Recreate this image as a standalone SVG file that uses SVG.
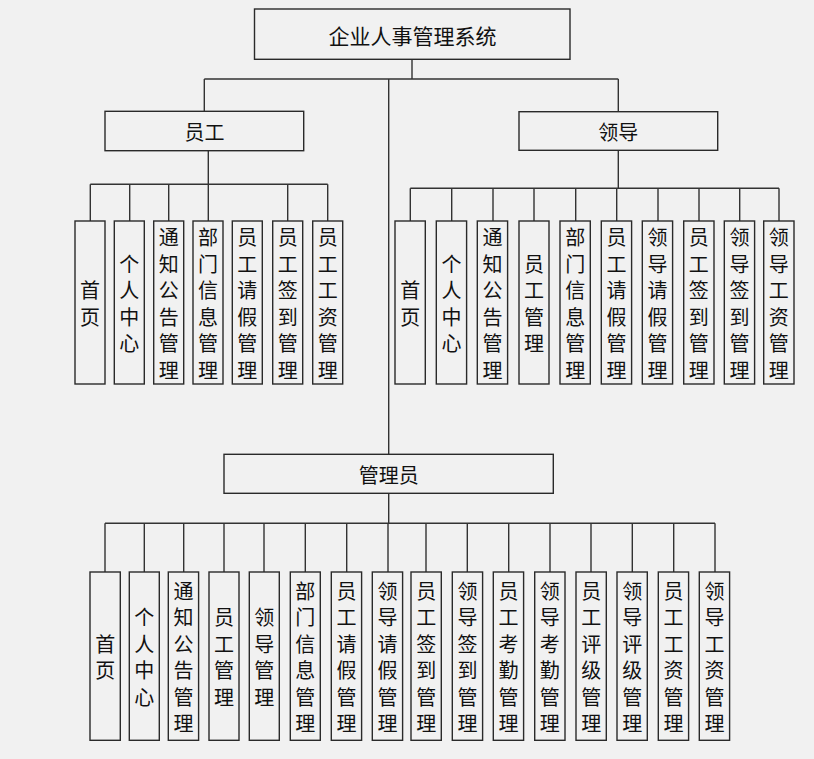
<svg xmlns="http://www.w3.org/2000/svg" width="814" height="759" viewBox="0 0 814 759">
<style>
.bg{fill:#f1f1f1}
.box{fill:#f1f1f1;stroke:#2a2a2a;stroke-width:1.4}
.ln{fill:none;stroke:#333;stroke-width:1.4}
.t{font-family:"Noto Sans CJK SC","Noto Sans",sans-serif;font-size:20px;fill:#111;text-anchor:middle;dominant-baseline:central}
.tt{font-size:21px}
</style>
<rect class="bg" x="0" y="0" width="814" height="759"/>
<g id="connectors">
<path class="ln" d="M412 59.5V79M204.3 79H618.3M204.3 79V111.3M618.3 79V111.7M388.7 79V454.3"/>
<path class="ln" d="M208.3 150.7V184.3M90.3 184.3H327.7M90.3 184.3V221M129.7 184.3V221M168.7 184.3V221M208.3 184.3V221M287.7 184.3V221M327.7 184.3V221"/>
<path class="ln" d="M618.3 150.3V188.3M410.3 188.3H779M410.3 188.3V221M451.7 188.3V221M493 188.3V221M534 188.3V221M575.7 188.3V221M616.7 188.3V221M658 188.3V221M699 188.3V221M739.7 188.3V221M779 188.3V221"/>
<path class="ln" d="M388.7 493.3V523.3M105 523.3H715M105 523.3V572M144.3 523.3V572M183.7 523.3V572M224 523.3V572M264 523.3V572M305.3 523.3V572M346.7 523.3V572M388 523.3V572M426 523.3V572M467.3 523.3V572M508.7 523.3V572M550 523.3V572M591 523.3V572M632.3 523.3V572M673.7 523.3V572M715 523.3V572"/>
</g>
<g id="root"><rect class="box" x="254.5" y="9" width="315.5" height="50.3"/><text class="t tt" x="412.5" y="35">企业人事管理系统</text></g>
<g id="yuangong"><rect class="box" x="105" y="111.3" width="198.7" height="39.4"/><text class="t" x="204.5" y="131.5">员工</text></g>
<g id="lingdao"><rect class="box" x="519" y="111.7" width="198.7" height="38.6"/><text class="t" x="618.3" y="131.5">领导</text></g>
<g id="guanliyuan"><rect class="box" x="224" y="454.3" width="329.3" height="39"/><text class="t" x="388.7" y="474">管理员</text></g>

<g id="e1"><rect class="box" x="75" y="221" width="30" height="163"/><text class="t"><tspan x="90" y="289.3">首</tspan><tspan x="90" y="315.8">页</tspan></text></g>
<g id="e2"><rect class="box" x="114.3" y="221" width="30" height="163"/><text class="t"><tspan x="129.3" y="262.8">个</tspan><tspan x="129.3" y="289.3">人</tspan><tspan x="129.3" y="315.8">中</tspan><tspan x="129.3" y="342.3">心</tspan></text></g>
<g id="e3"><rect class="box" x="153.7" y="221" width="30" height="163"/><text class="t"><tspan x="168.7" y="236.3">通</tspan><tspan x="168.7" y="262.8">知</tspan><tspan x="168.7" y="289.3">公</tspan><tspan x="168.7" y="315.8">告</tspan><tspan x="168.7" y="342.3">管</tspan><tspan x="168.7" y="368.8">理</tspan></text></g>
<g id="e4"><rect class="box" x="193" y="221" width="30" height="163"/><text class="t"><tspan x="208" y="236.3">部</tspan><tspan x="208" y="262.8">门</tspan><tspan x="208" y="289.3">信</tspan><tspan x="208" y="315.8">息</tspan><tspan x="208" y="342.3">管</tspan><tspan x="208" y="368.8">理</tspan></text></g>
<g id="e5"><rect class="box" x="232.3" y="221" width="30" height="163"/><text class="t"><tspan x="247.3" y="236.3">员</tspan><tspan x="247.3" y="262.8">工</tspan><tspan x="247.3" y="289.3">请</tspan><tspan x="247.3" y="315.8">假</tspan><tspan x="247.3" y="342.3">管</tspan><tspan x="247.3" y="368.8">理</tspan></text></g>
<g id="e6"><rect class="box" x="272.7" y="221" width="30" height="163"/><text class="t"><tspan x="287.7" y="236.3">员</tspan><tspan x="287.7" y="262.8">工</tspan><tspan x="287.7" y="289.3">签</tspan><tspan x="287.7" y="315.8">到</tspan><tspan x="287.7" y="342.3">管</tspan><tspan x="287.7" y="368.8">理</tspan></text></g>
<g id="e7"><rect class="box" x="312.7" y="221" width="30" height="163"/><text class="t"><tspan x="327.7" y="236.3">员</tspan><tspan x="327.7" y="262.8">工</tspan><tspan x="327.7" y="289.3">工</tspan><tspan x="327.7" y="315.8">资</tspan><tspan x="327.7" y="342.3">管</tspan><tspan x="327.7" y="368.8">理</tspan></text></g>

<g id="l1"><rect class="box" x="395" y="221" width="30.3" height="163"/><text class="t"><tspan x="410.2" y="289.3">首</tspan><tspan x="410.2" y="315.8">页</tspan></text></g>
<g id="l2"><rect class="box" x="436.3" y="221" width="30.3" height="163"/><text class="t"><tspan x="451.5" y="262.8">个</tspan><tspan x="451.5" y="289.3">人</tspan><tspan x="451.5" y="315.8">中</tspan><tspan x="451.5" y="342.3">心</tspan></text></g>
<g id="l3"><rect class="box" x="477.3" y="221" width="30.3" height="163"/><text class="t"><tspan x="492.5" y="236.3">通</tspan><tspan x="492.5" y="262.8">知</tspan><tspan x="492.5" y="289.3">公</tspan><tspan x="492.5" y="315.8">告</tspan><tspan x="492.5" y="342.3">管</tspan><tspan x="492.5" y="368.8">理</tspan></text></g>
<g id="l4"><rect class="box" x="519" y="221" width="30" height="163"/><text class="t"><tspan x="534" y="262.8">员</tspan><tspan x="534" y="289.3">工</tspan><tspan x="534" y="315.8">管</tspan><tspan x="534" y="342.3">理</tspan></text></g>
<g id="l5"><rect class="box" x="560" y="221" width="30.3" height="163"/><text class="t"><tspan x="575.2" y="236.3">部</tspan><tspan x="575.2" y="262.8">门</tspan><tspan x="575.2" y="289.3">信</tspan><tspan x="575.2" y="315.8">息</tspan><tspan x="575.2" y="342.3">管</tspan><tspan x="575.2" y="368.8">理</tspan></text></g>
<g id="l6"><rect class="box" x="601.3" y="221" width="30.3" height="163"/><text class="t"><tspan x="616.5" y="236.3">员</tspan><tspan x="616.5" y="262.8">工</tspan><tspan x="616.5" y="289.3">请</tspan><tspan x="616.5" y="315.8">假</tspan><tspan x="616.5" y="342.3">管</tspan><tspan x="616.5" y="368.8">理</tspan></text></g>
<g id="l7"><rect class="box" x="642.3" y="221" width="30.3" height="163"/><text class="t"><tspan x="657.5" y="236.3">领</tspan><tspan x="657.5" y="262.8">导</tspan><tspan x="657.5" y="289.3">请</tspan><tspan x="657.5" y="315.8">假</tspan><tspan x="657.5" y="342.3">管</tspan><tspan x="657.5" y="368.8">理</tspan></text></g>
<g id="l8"><rect class="box" x="683.7" y="221" width="30.3" height="163"/><text class="t"><tspan x="698.8" y="236.3">员</tspan><tspan x="698.8" y="262.8">工</tspan><tspan x="698.8" y="289.3">签</tspan><tspan x="698.8" y="315.8">到</tspan><tspan x="698.8" y="342.3">管</tspan><tspan x="698.8" y="368.8">理</tspan></text></g>
<g id="l9"><rect class="box" x="724.3" y="221" width="30.3" height="163"/><text class="t"><tspan x="739.5" y="236.3">领</tspan><tspan x="739.5" y="262.8">导</tspan><tspan x="739.5" y="289.3">签</tspan><tspan x="739.5" y="315.8">到</tspan><tspan x="739.5" y="342.3">管</tspan><tspan x="739.5" y="368.8">理</tspan></text></g>
<g id="l10"><rect class="box" x="763.7" y="221" width="30.3" height="163"/><text class="t"><tspan x="778.8" y="236.3">领</tspan><tspan x="778.8" y="262.8">导</tspan><tspan x="778.8" y="289.3">工</tspan><tspan x="778.8" y="315.8">资</tspan><tspan x="778.8" y="342.3">管</tspan><tspan x="778.8" y="368.8">理</tspan></text></g>

<g id="a1"><rect class="box" x="90" y="572" width="30.3" height="168.3"/><text class="t"><tspan x="105.2" y="642.9">首</tspan><tspan x="105.2" y="669.4">页</tspan></text></g>
<g id="a2"><rect class="box" x="129.3" y="572" width="30" height="168.3"/><text class="t"><tspan x="144.3" y="616.4">个</tspan><tspan x="144.3" y="642.9">人</tspan><tspan x="144.3" y="669.4">中</tspan><tspan x="144.3" y="695.9">心</tspan></text></g>
<g id="a3"><rect class="box" x="168.3" y="572" width="30.3" height="168.3"/><text class="t"><tspan x="183.5" y="589.9">通</tspan><tspan x="183.5" y="616.4">知</tspan><tspan x="183.5" y="642.9">公</tspan><tspan x="183.5" y="669.4">告</tspan><tspan x="183.5" y="695.9">管</tspan><tspan x="183.5" y="722.4">理</tspan></text></g>
<g id="a4"><rect class="box" x="209" y="572" width="30" height="168.3"/><text class="t"><tspan x="224" y="616.4">员</tspan><tspan x="224" y="642.9">工</tspan><tspan x="224" y="669.4">管</tspan><tspan x="224" y="695.9">理</tspan></text></g>
<g id="a5"><rect class="box" x="249.3" y="572" width="30" height="168.3"/><text class="t"><tspan x="264.3" y="616.4">领</tspan><tspan x="264.3" y="642.9">导</tspan><tspan x="264.3" y="669.4">管</tspan><tspan x="264.3" y="695.9">理</tspan></text></g>
<g id="a6"><rect class="box" x="290.3" y="572" width="30" height="168.3"/><text class="t"><tspan x="305.3" y="589.9">部</tspan><tspan x="305.3" y="616.4">门</tspan><tspan x="305.3" y="642.9">信</tspan><tspan x="305.3" y="669.4">息</tspan><tspan x="305.3" y="695.9">管</tspan><tspan x="305.3" y="722.4">理</tspan></text></g>
<g id="a7"><rect class="box" x="331.3" y="572" width="30.3" height="168.3"/><text class="t"><tspan x="346.5" y="589.9">员</tspan><tspan x="346.5" y="616.4">工</tspan><tspan x="346.5" y="642.9">请</tspan><tspan x="346.5" y="669.4">假</tspan><tspan x="346.5" y="695.9">管</tspan><tspan x="346.5" y="722.4">理</tspan></text></g>
<g id="a8"><rect class="box" x="372.3" y="572" width="30.3" height="168.3"/><text class="t"><tspan x="387.5" y="589.9">领</tspan><tspan x="387.5" y="616.4">导</tspan><tspan x="387.5" y="642.9">请</tspan><tspan x="387.5" y="669.4">假</tspan><tspan x="387.5" y="695.9">管</tspan><tspan x="387.5" y="722.4">理</tspan></text></g>
<g id="a9"><rect class="box" x="411" y="572" width="30.3" height="168.3"/><text class="t"><tspan x="426.2" y="589.9">员</tspan><tspan x="426.2" y="616.4">工</tspan><tspan x="426.2" y="642.9">签</tspan><tspan x="426.2" y="669.4">到</tspan><tspan x="426.2" y="695.9">管</tspan><tspan x="426.2" y="722.4">理</tspan></text></g>
<g id="a10"><rect class="box" x="452.3" y="572" width="30.3" height="168.3"/><text class="t"><tspan x="467.5" y="589.9">领</tspan><tspan x="467.5" y="616.4">导</tspan><tspan x="467.5" y="642.9">签</tspan><tspan x="467.5" y="669.4">到</tspan><tspan x="467.5" y="695.9">管</tspan><tspan x="467.5" y="722.4">理</tspan></text></g>
<g id="a11"><rect class="box" x="493.3" y="572" width="30.3" height="168.3"/><text class="t"><tspan x="508.5" y="589.9">员</tspan><tspan x="508.5" y="616.4">工</tspan><tspan x="508.5" y="642.9">考</tspan><tspan x="508.5" y="669.4">勤</tspan><tspan x="508.5" y="695.9">管</tspan><tspan x="508.5" y="722.4">理</tspan></text></g>
<g id="a12"><rect class="box" x="534.7" y="572" width="30.3" height="168.3"/><text class="t"><tspan x="549.8" y="589.9">领</tspan><tspan x="549.8" y="616.4">导</tspan><tspan x="549.8" y="642.9">考</tspan><tspan x="549.8" y="669.4">勤</tspan><tspan x="549.8" y="695.9">管</tspan><tspan x="549.8" y="722.4">理</tspan></text></g>
<g id="a13"><rect class="box" x="576" y="572" width="30.3" height="168.3"/><text class="t"><tspan x="591.2" y="589.9">员</tspan><tspan x="591.2" y="616.4">工</tspan><tspan x="591.2" y="642.9">评</tspan><tspan x="591.2" y="669.4">级</tspan><tspan x="591.2" y="695.9">管</tspan><tspan x="591.2" y="722.4">理</tspan></text></g>
<g id="a14"><rect class="box" x="617" y="572" width="30.3" height="168.3"/><text class="t"><tspan x="632.2" y="589.9">领</tspan><tspan x="632.2" y="616.4">导</tspan><tspan x="632.2" y="642.9">评</tspan><tspan x="632.2" y="669.4">级</tspan><tspan x="632.2" y="695.9">管</tspan><tspan x="632.2" y="722.4">理</tspan></text></g>
<g id="a15"><rect class="box" x="658.3" y="572" width="30.3" height="168.3"/><text class="t"><tspan x="673.5" y="589.9">员</tspan><tspan x="673.5" y="616.4">工</tspan><tspan x="673.5" y="642.9">工</tspan><tspan x="673.5" y="669.4">资</tspan><tspan x="673.5" y="695.9">管</tspan><tspan x="673.5" y="722.4">理</tspan></text></g>
<g id="a16"><rect class="box" x="699.3" y="572" width="30.3" height="168.3"/><text class="t"><tspan x="714.5" y="589.9">领</tspan><tspan x="714.5" y="616.4">导</tspan><tspan x="714.5" y="642.9">工</tspan><tspan x="714.5" y="669.4">资</tspan><tspan x="714.5" y="695.9">管</tspan><tspan x="714.5" y="722.4">理</tspan></text></g>
</svg>
